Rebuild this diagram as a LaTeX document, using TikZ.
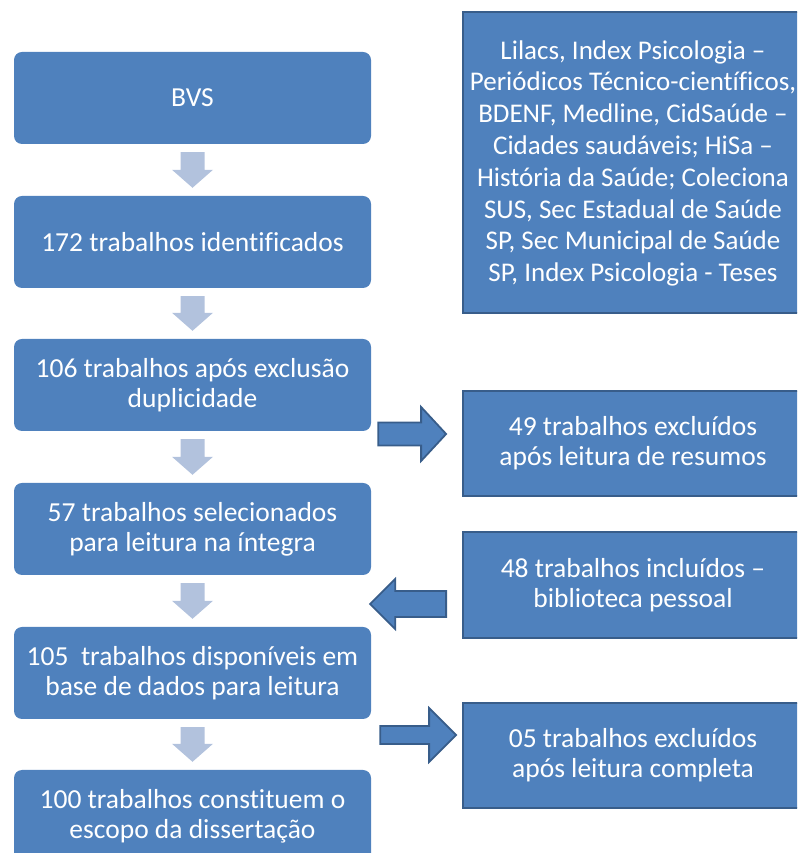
\documentclass[tikz,border=0pt]{standalone}
\usepackage{fontspec}
\setmainfont[Ligatures=NoCommon]{Carlito}
\usetikzlibrary{calc}
\definecolor{boxblue}{HTML}{4F81BD}
\definecolor{borderblue}{HTML}{385D8A}
\definecolor{lightarrow}{HTML}{B2C2DD}
\tikzset{
  leftbox/.style={rounded corners=8pt, fill=boxblue, minimum width=357pt, minimum height=92pt,
    text=white, align=center, inner sep=0pt, font=\fontsize{27.5}{30}\selectfont},
  rightbox/.style={fill=boxblue, draw=borderblue, line width=1.8pt, minimum width=340pt,
    text=white, align=center, inner sep=0pt, font=\fontsize{27.5}{30}\selectfont},
  downarrow/.style={fill=lightarrow},
  blockarrow/.style={fill=boxblue, draw=borderblue, line width=1.8pt, line join=miter}
}
% right-pointing block arrow: tail point (gives y), tip point (x only), shaft half, head half, head length
\newcommand\rarrow[5]{\path[blockarrow] let \p1=#1, \p2=#2 in
  (\x1,\y1+#3) -- (\x2-#5,\y1+#3) -- (\x2-#5,\y1+#4) -- (\x2,\y1) -- (\x2-#5,\y1-#4) -- (\x2-#5,\y1-#3) -- (\x1,\y1-#3) -- cycle;}
\newcommand\larrow[5]{\path[blockarrow] let \p1=#1, \p2=#2 in
  (\x1,\y1+#3) -- (\x2+#5,\y1+#3) -- (\x2+#5,\y1+#4) -- (\x2,\y1) -- (\x2+#5,\y1-#4) -- (\x2+#5,\y1-#3) -- (\x1,\y1-#3) -- cycle;}
\newcommand\darrow[2]{\path[downarrow] let \p1=#1, \p2=#2 in
  (\x1-12pt,\y1-8pt) -- (\x1+12pt,\y1-8pt) -- (\x1+12pt,\y2+26pt) -- (\x1+20.5pt,\y2+26pt) -- (\x1,\y2+8pt) -- (\x1-20.5pt,\y2+26pt) -- (\x1-12pt,\y2+26pt) -- cycle;}
\begin{document}
\begin{tikzpicture}
\useasboundingbox (0pt,0pt) rectangle (797pt,853pt);
\clip (0pt,0pt) rectangle (797pt,853pt);
% left column
\node[leftbox] (bvs) at (192.5pt,755pt) {BVS};
\node[leftbox] (n172) at (192.5pt,611pt) {172 trabalhos identificados};
\node[leftbox] (n106) at (192.5pt,468pt) {106 trabalhos após exclusão\\duplicidade};
\node[leftbox] (n57) at (192.5pt,324pt) {57 trabalhos selecionados\\para leitura na íntegra};
\node[leftbox] (n105) at (192.5pt,180pt) {105\ \ trabalhos disponíveis em\\base de dados para leitura};
\node[leftbox] (n100) at (192.5pt,37pt) {100 trabalhos constituem o\\escopo da dissertação};
% right column
\node[rightbox, minimum height=301pt, text depth=3pt, font=\fontsize{27}{31.8}\selectfont] (rtop) at (633pt,690.5pt)
  {Lilacs, Index Psicologia –\\Periódicos Técnico-científicos,\\BDENF, Medline, CidSaúde –\\Cidades saudáveis; HiSa –\\História da Saúde; Coleciona\\SUS, Sec Estadual de Saúde\\SP, Sec Municipal de Saúde\\SP, Index Psicologia - Teses};
\node[rightbox, minimum height=105pt] (r49) at (633pt,409.5pt) {49 trabalhos excluídos\\após leitura de resumos};
\node[rightbox, minimum height=106pt] (r48) at (633pt,268pt) {48 trabalhos incluídos –\\biblioteca pessoal};
\node[rightbox, minimum height=105pt] (r05) at (633pt,97.5pt) {05 trabalhos excluídos\\após leitura completa};
% down arrows
\darrow{(bvs.south)}{(n172.north)}
\darrow{(n172.south)}{(n106.north)}
\darrow{(n106.south)}{(n57.north)}
\darrow{(n57.south)}{(n105.north)}
\darrow{(n105.south)}{(n100.north)}
% block arrows
\rarrow{($(n106.east)+(7pt,-49pt)$)}{($(r49.west)+(-16pt,0pt)$)}{11.5pt}{27pt}{25pt}
\larrow{($(r48.west)+(-16pt,-19pt)$)}{($(n57.east)+(-1pt,0pt)$)}{13pt}{25pt}{25pt}
\rarrow{($(n105.east)+(9pt,-62pt)$)}{($(r05.west)+(-6pt,0pt)$)}{9pt}{27pt}{27pt}
\end{tikzpicture}
\end{document}
